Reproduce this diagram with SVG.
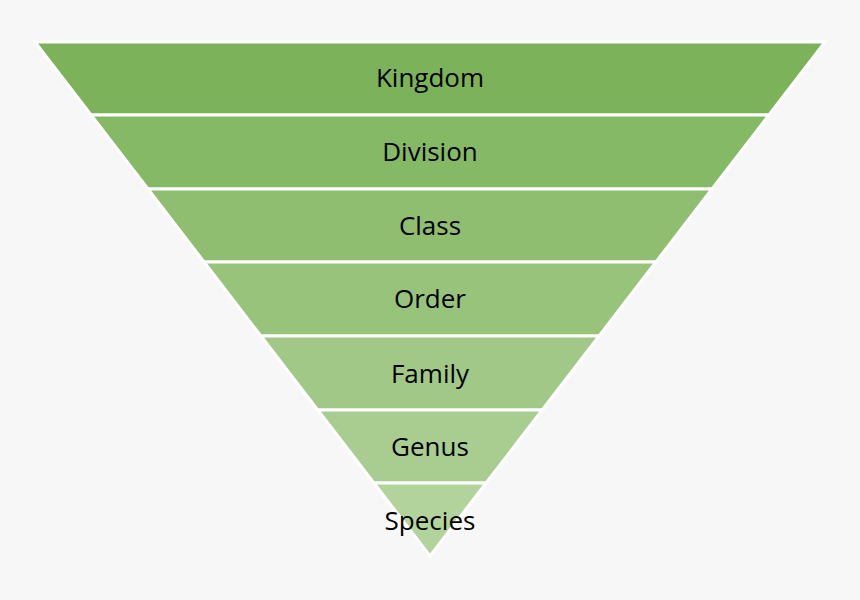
<svg xmlns="http://www.w3.org/2000/svg" width="860" height="600" viewBox="0 0 860 600">
<style>
.b{stroke:#fff;stroke-width:3;stroke-linejoin:miter}
.t{font-family:"Open Sans","Noto Sans",sans-serif;font-size:26px;fill:#000;text-anchor:middle;dominant-baseline:central}
</style>
<rect width="860" height="600" fill="#f7f7f7"/>
<g id="kingdom"><polygon class="b" fill="#7cb35a" points="35,42 825,42 768.9,115 91.1,115"/><text class="t" x="430" y="77">Kingdom</text></g>
<g id="division"><polygon class="b" fill="#86b965" points="91.1,115 768.9,115 712,189 148,189"/><text class="t" x="430" y="151">Division</text></g>
<g id="class"><polygon class="b" fill="#8fbe70" points="148,189 712,189 655.9,262 204.1,262"/><text class="t" x="430" y="225">Class</text></g>
<g id="order"><polygon class="b" fill="#98c37b" points="204.1,262 655.9,262 599.1,336 260.9,336"/><text class="t" x="430" y="298">Order</text></g>
<g id="family"><polygon class="b" fill="#a1c886" points="260.9,336 599.1,336 542.2,410 317.8,410"/><text class="t" x="430" y="373">Family</text></g>
<g id="genus"><polygon class="b" fill="#a9cd91" points="317.8,410 542.2,410 486.1,483 373.9,483"/><text class="t" x="430" y="446">Genus</text></g>
<g id="species"><polygon class="b" fill="#b2d39c" points="373.9,483 486.1,483 430,556"/><text class="t" x="430" y="520">Species</text></g>
<g id="connectors"></g>
</svg>
